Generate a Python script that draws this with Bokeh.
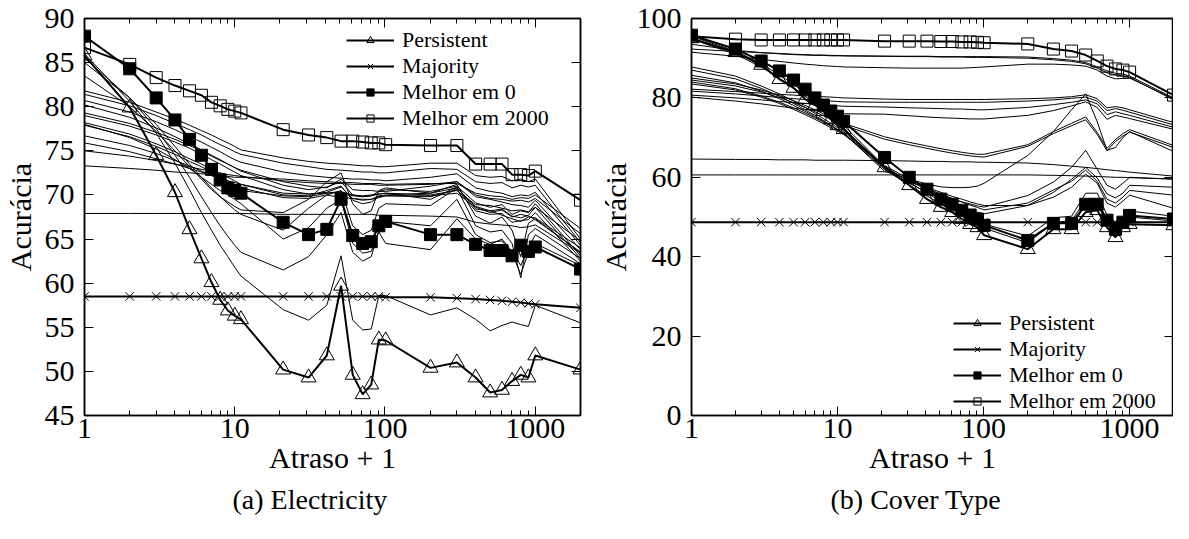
from bokeh.plotting import figure
from bokeh.layouts import row
from bokeh.models import (Range1d, FixedTicker, LinearAxis, Legend, LegendItem, Title,
                          NumeralTickFormatter, CustomJSTickFormatter)
from bokeh.embed import file_html
from bokeh.resources import INLINE

FONT = "Liberation Serif"

# delay + 1
X = [1, 2, 3, 4, 5, 6, 7, 8, 9, 10, 11, 21, 31, 41, 51, 61, 71, 81, 91, 101,
     201, 301, 401, 501, 601, 701, 801, 901, 1001, 2001]

X_MAJOR = [1, 10, 100, 1000]
X_MINOR = [2, 3, 4, 5, 6, 7, 8, 9, 20, 30, 40, 50, 60, 70, 80, 90,
           200, 300, 400, 500, 600, 700, 800, 900, 2000]

# ---------------- (a) Electricity ----------------
elec_yticks = [45, 50, 55, 60, 65, 70, 75, 80, 85, 90]
elec_persistent = [85.8, 79.9, 74.5, 70.3, 66.1, 62.8, 60.1, 58.1, 56.9, 56.3, 55.9,
                   50.2, 49.3, 51.8, 59.7, 49.6, 47.4, 48.5, 53.6, 53.5,
                   50.4, 51.0, 49.3, 47.6, 47.9, 48.9, 49.6, 49.3, 51.8, 50.2]
elec_majority = [58.5, 58.5, 58.5, 58.5, 58.5, 58.5, 58.5, 58.5, 58.5, 58.5, 58.5,
                 58.5, 58.5, 58.5, 58.5, 58.5, 58.5, 58.5, 58.5, 58.4,
                 58.4, 58.3, 58.2, 58.1, 58.0, 57.9, 57.8, 57.7, 57.6, 57.2]
elec_best0 = [88.0, 84.3, 81.0, 78.5, 76.3, 74.5, 72.9, 71.7, 70.8, 70.5, 70.2,
              66.9, 65.5, 66.1, 69.5, 65.4, 64.5, 64.7, 66.5, 67.0,
              65.5, 65.5, 64.4, 63.7, 63.7, 63.1, 64.3, 63.6, 64.1, 61.6]
elec_best2000 = [86.7, 84.8, 83.3, 82.4, 81.8, 81.3, 80.5, 80.1, 79.7, 79.5, 79.3,
                 77.4, 76.8, 76.5, 76.1, 76.1, 76.0, 75.9, 75.9, 75.7,
                 75.6, 75.6, 73.5, 73.5, 73.5, 72.3, 72.3, 72.2, 72.7, 69.4]
elec_l01 = [81.8, 80.5, 79.4, 78.6, 77.9, 77.3, 76.8, 76.3, 75.9, 75.5, 75.1, 74.2, 73.8, 73.6, 73.5, 73.4, 73.3, 73.3, 73.2, 73.2, 73.6, 73.6, 72.2, 72.0, 72.1, 71.6, 71.8, 71.5, 71.8, 65.0]
elec_l02 = [81.4, 80.1, 79.0, 78.1, 77.4, 76.8, 76.2, 75.7, 75.3, 74.9, 74.6, 73.6, 73.2, 72.9, 72.8, 72.7, 72.6, 72.6, 72.5, 72.5, 73.0, 72.9, 71.5, 71.3, 71.4, 70.8, 71.1, 70.9, 71.1, 64.6]
elec_l03 = [80.7, 79.4, 78.3, 77.4, 76.6, 76.0, 75.4, 74.9, 74.4, 74.0, 73.7, 72.6, 72.2, 72.0, 71.9, 71.8, 71.8, 71.7, 71.7, 71.6, 72.0, 72.4, 70.8, 70.4, 70.2, 69.8, 70.0, 69.9, 70.3, 64.3]
elec_l04 = [80.2, 78.8, 77.6, 76.6, 75.8, 75.1, 74.5, 74.0, 73.5, 73.1, 72.8, 71.5, 71.0, 70.8, 71.8, 70.6, 70.5, 70.5, 70.4, 70.4, 71.0, 71.5, 69.8, 69.5, 69.2, 68.9, 68.8, 68.6, 69.4, 63.8]
elec_l05 = [79.3, 78.1, 77.1, 76.3, 75.6, 75.0, 74.4, 73.9, 73.5, 73.1, 72.7, 71.1, 70.6, 70.9, 71.5, 70.0, 69.8, 69.9, 70.4, 70.6, 70.4, 71.0, 69.1, 68.6, 68.9, 67.8, 68.2, 68.0, 69.0, 63.1]
elec_l06 = [79.0, 77.8, 76.8, 76.0, 75.3, 74.6, 74.0, 73.5, 73.0, 72.6, 72.2, 70.6, 70.1, 70.3, 70.9, 69.6, 69.5, 69.5, 69.9, 70.0, 70.2, 70.8, 68.7, 68.2, 68.4, 67.6, 67.4, 67.7, 68.6, 62.8]
elec_l07 = [78.2, 76.9, 75.8, 74.9, 74.1, 73.5, 72.9, 72.4, 72.0, 71.6, 71.2, 70.0, 69.9, 70.5, 71.0, 69.4, 69.0, 69.2, 69.8, 69.9, 69.8, 70.6, 68.2, 67.8, 67.9, 66.9, 67.1, 67.2, 68.0, 62.5]
elec_l08 = [77.9, 76.6, 75.5, 74.6, 73.8, 73.2, 72.6, 72.1, 71.6, 71.2, 70.8, 69.7, 69.6, 70.0, 69.7, 69.6, 69.4, 69.5, 69.7, 69.9, 69.9, 70.2, 68.6, 68.0, 68.3, 67.5, 67.8, 67.6, 67.2, 63.5]
elec_l09 = [76.7, 75.6, 74.7, 73.9, 73.3, 72.7, 72.2, 71.8, 71.4, 71.0, 70.5, 69.9, 69.8, 70.2, 70.4, 69.9, 69.8, 69.9, 70.1, 70.2, 69.5, 70.9, 68.4, 68.2, 67.7, 67.3, 67.0, 67.5, 67.4, 64.0]
elec_l10 = [75.9, 74.9, 74.1, 73.5, 73.0, 72.6, 72.2, 71.9, 71.6, 71.4, 71.2, 70.2, 70.1, 70.2, 70.3, 70.0, 69.9, 70.0, 70.1, 70.2, 70.0, 70.5, 68.9, 68.8, 68.5, 68.2, 68.3, 68.1, 68.6, 64.8]
elec_l11 = [75.0, 74.4, 73.9, 73.5, 73.2, 72.9, 72.7, 72.5, 72.3, 72.2, 72.1, 71.6, 71.4, 71.3, 71.3, 71.2, 71.2, 71.2, 71.1, 71.1, 71.2, 71.5, 70.0, 69.6, 69.5, 69.3, 69.4, 69.2, 69.6, 65.6]
elec_l12 = [73.3, 73.0, 72.8, 72.6, 72.5, 72.4, 72.3, 72.2, 72.1, 72.0, 72.0, 71.8, 71.6, 71.5, 71.4, 71.4, 71.3, 71.3, 71.3, 71.2, 71.3, 71.3, 70.2, 69.9, 69.8, 69.5, 69.7, 69.6, 70.0, 66.2]
elec_l13 = [67.9, 67.9, 67.9, 67.9, 67.9, 67.9, 67.9, 67.9, 67.9, 67.9, 67.9, 67.8, 67.8, 67.8, 67.8, 67.8, 67.8, 67.8, 67.7, 67.7, 67.6, 67.5, 66.9, 66.7, 66.6, 66.5, 66.3, 66.4, 66.6, 63.4]
elec_l14 = [85.0, 81.0, 78.0, 75.5, 73.5, 72.0, 70.8, 69.8, 69.0, 68.3, 67.8, 66.0, 68.5, 70.0, 70.5, 66.5, 65.5, 66.0, 68.5, 69.0, 68.8, 70.8, 66.5, 65.8, 66.0, 64.5, 60.6, 65.5, 66.2, 62.8]
elec_l15 = [83.5, 80.0, 77.2, 75.0, 73.2, 71.8, 70.6, 69.8, 69.2, 68.7, 68.3, 68.0, 69.5, 71.5, 72.5, 69.0, 67.8, 68.2, 70.5, 70.8, 70.2, 71.2, 67.6, 66.8, 67.5, 66.0, 63.0, 66.8, 67.3, 63.5]
elec_l16 = [78.0, 76.5, 75.2, 74.0, 73.0, 72.0, 71.2, 70.5, 70.0, 69.5, 69.0, 65.0, 66.3, 68.5, 69.5, 64.5, 63.4, 63.6, 65.8, 64.5, 63.8, 67.3, 65.0, 64.4, 65.0, 63.6, 62.0, 64.0, 65.5, 62.2]
elec_l17 = [85.5, 81.0, 77.5, 74.5, 72.0, 69.8, 68.0, 66.5, 65.3, 64.3, 63.5, 61.5, 63.0, 65.5, 68.0, 63.5, 62.5, 63.0, 66.0, 67.0, 66.5, 69.5, 65.5, 64.6, 64.8, 63.4, 61.0, 63.5, 64.5, 62.0]
elec_l18 = [86.0, 80.6, 77.0, 73.6, 70.6, 68.0, 66.0, 64.3, 63.0, 61.8, 60.8, 57.0, 55.8, 57.5, 63.1, 55.8, 54.7, 54.8, 58.6, 58.6, 56.4, 57.2, 55.9, 54.6, 55.2, 55.6, 55.3, 55.1, 57.5, 55.5]
elec_others = [elec_l01, elec_l02, elec_l03, elec_l04, elec_l05, elec_l06, elec_l07, elec_l08, elec_l09,
               elec_l10, elec_l11, elec_l12, elec_l13, elec_l14, elec_l15, elec_l16, elec_l17, elec_l18]

# ---------------- (b) Cover Type ----------------
cov_yticks = [0, 20, 40, 60, 80, 100]
cov_persistent = [95.0, 91.5, 88.3, 84.7, 82.5, 79.7, 78.2, 76.7, 74.6, 73.1, 72.1,
                  62.5, 58.0, 54.5, 52.5, 51.2, 49.5, 48.2, 47.4, 45.4,
                  41.9, 46.9, 46.9, 51.2, 51.7, 47.4, 44.9, 47.4, 48.2, 47.9]
cov_majority = [48.7, 48.7, 48.7, 48.7, 48.7, 48.7, 48.7, 48.7, 48.7, 48.7, 48.7,
                48.7, 48.7, 48.7, 48.7, 48.7, 48.7, 48.7, 48.7, 48.7,
                48.7, 48.7, 48.7, 48.7, 48.7, 48.7, 48.7, 48.7, 48.7, 48.7]
cov_best0 = [95.8, 92.3, 89.3, 86.8, 84.5, 82.2, 80.0, 78.2, 76.7, 75.4, 74.1,
             65.0, 60.0, 57.0, 54.5, 53.2, 51.7, 50.5, 49.5, 47.9,
             44.1, 48.4, 48.4, 53.2, 53.2, 49.2, 46.9, 48.7, 50.4, 49.5]
cov_best2000 = [95.5, 94.8, 94.6, 94.6, 94.6, 94.6, 94.6, 94.6, 94.6, 94.6, 94.6,
                94.3, 94.3, 94.3, 94.2, 94.2, 94.1, 94.1, 94.0, 93.9,
                93.6, 92.3, 91.8, 90.8, 89.3, 88.0, 87.3, 87.0, 86.5, 80.7]
cov_l01 = [93.5, 92.0, 91.4, 91.1, 90.9, 90.8, 90.7, 90.7, 90.6, 90.6, 90.6, 90.5, 90.5, 90.5, 90.4, 90.4, 90.4, 90.4, 90.4, 90.4, 90.3, 89.9, 89.5, 88.9, 87.8, 86.8, 86.2, 86.0, 85.5, 80.0]
cov_l02 = [91.5, 90.5, 89.7, 89.2, 88.8, 88.5, 88.3, 88.1, 88.0, 87.9, 87.8, 87.6, 87.5, 87.5, 87.5, 87.5, 87.5, 87.6, 87.7, 87.8, 88.5, 88.5, 88.3, 88.0, 87.0, 85.5, 84.8, 84.9, 85.0, 79.8]
cov_l03 = [92.3, 91.7, 91.4, 91.2, 91.0, 90.9, 90.8, 90.8, 90.7, 90.7, 90.6, 90.5, 90.4, 90.4, 90.3, 90.3, 90.3, 90.2, 90.2, 90.2, 90.0, 89.6, 89.2, 88.6, 87.5, 86.3, 85.8, 85.5, 85.2, 79.5]
cov_l04 = [82.2, 81.6, 81.2, 80.9, 80.7, 80.5, 80.4, 80.3, 80.2, 80.1, 80.0, 79.7, 79.6, 79.6, 79.6, 79.6, 79.6, 79.6, 79.6, 79.6, 79.8, 80.0, 80.3, 80.8, 79.8, 77.5, 77.8, 77.5, 77.0, 73.8]
cov_l05 = [81.7, 81.0, 80.5, 80.1, 79.8, 79.6, 79.4, 79.3, 79.2, 79.1, 79.0, 78.9, 78.9, 78.9, 78.9, 78.9, 78.9, 78.9, 78.9, 78.9, 79.2, 79.5, 79.9, 80.2, 79.2, 76.8, 77.3, 76.9, 76.4, 73.2]
cov_l06 = [80.7, 80.0, 79.5, 79.1, 78.8, 78.6, 78.4, 78.3, 78.1, 78.0, 77.9, 77.7, 77.5, 77.4, 77.3, 77.2, 77.2, 77.1, 77.0, 77.0, 77.6, 78.3, 78.9, 79.5, 78.5, 75.8, 76.5, 76.0, 75.6, 72.6]
cov_l07 = [80.2, 79.2, 78.5, 77.9, 77.4, 77.1, 76.8, 76.6, 76.4, 76.2, 76.0, 75.9, 75.5, 75.2, 75.0, 74.9, 74.8, 74.7, 74.7, 74.7, 75.6, 76.8, 78.0, 79.0, 77.6, 74.6, 75.6, 75.2, 74.8, 72.1]
cov_l08 = [85.0, 83.5, 82.0, 80.6, 79.3, 78.1, 77.0, 76.0, 75.1, 74.3, 73.6, 70.2, 68.8, 67.9, 67.2, 66.7, 66.3, 66.0, 65.8, 65.8, 68.2, 71.5, 73.6, 75.2, 71.3, 67.3, 69.5, 71.0, 72.0, 68.0]
cov_l09 = [84.5, 83.0, 81.5, 80.1, 78.8, 77.6, 76.5, 75.5, 74.6, 73.8, 73.1, 69.6, 68.2, 67.3, 66.6, 66.1, 65.7, 65.4, 65.2, 65.1, 67.8, 71.0, 73.0, 74.5, 70.8, 66.7, 69.0, 70.4, 71.4, 67.5]
cov_l10 = [64.6, 64.5, 64.5, 64.4, 64.4, 64.4, 64.3, 64.3, 64.3, 64.3, 64.3, 64.2, 64.1, 64.0, 64.0, 63.9, 63.9, 63.9, 63.8, 63.8, 63.6, 63.2, 62.8, 62.5, 62.2, 61.9, 61.7, 61.5, 61.3, 60.3]
cov_l11 = [60.6, 60.6, 60.6, 60.6, 60.6, 60.6, 60.6, 60.6, 60.6, 60.6, 60.6, 60.6, 60.6, 60.6, 60.6, 60.6, 60.6, 60.6, 60.6, 60.6, 60.6, 60.5, 60.4, 60.3, 60.2, 60.1, 60.0, 60.0, 59.9, 59.6]
cov_l12 = [84.0, 82.3, 80.5, 78.9, 77.5, 76.2, 75.0, 73.9, 72.9, 72.0, 71.2, 61.5, 59.5, 58.3, 57.6, 57.4, 57.4, 57.5, 57.8, 58.5, 65.5, 71.5, 77.0, 81.0, 74.0, 66.8, 67.5, 70.0, 71.5, 66.5]
cov_l13 = [87.8, 85.5, 83.0, 81.0, 79.2, 77.6, 76.1, 74.8, 73.6, 72.5, 71.5, 62.5, 59.0, 57.0, 55.5, 54.5, 53.8, 53.3, 52.8, 52.5, 55.4, 58.8, 62.5, 66.8, 62.0, 58.0, 57.0, 58.5, 60.0, 59.5]
cov_l14 = [87.0, 84.8, 82.4, 80.4, 78.6, 77.0, 75.6, 74.3, 73.1, 72.0, 71.0, 62.0, 58.5, 56.2, 54.6, 53.4, 52.5, 51.8, 51.2, 50.8, 52.9, 56.2, 59.5, 62.5, 59.8, 55.8, 54.8, 56.0, 58.0, 57.5]
cov_l15 = [85.7, 83.8, 81.7, 79.8, 78.1, 76.6, 75.3, 74.1, 73.0, 72.0, 71.1, 62.5, 59.0, 57.2, 55.8, 54.7, 53.8, 53.0, 52.4, 51.8, 53.5, 56.8, 59.0, 61.8, 59.0, 54.5, 53.5, 55.0, 56.7, 55.5]
cov_l16 = [83.5, 82.0, 80.2, 78.6, 77.1, 75.8, 74.6, 73.5, 72.5, 71.6, 70.8, 63.0, 59.5, 57.5, 56.2, 55.2, 54.5, 53.8, 53.3, 52.9, 52.9, 55.0, 57.5, 60.8, 58.5, 53.5, 52.5, 54.0, 55.5, 52.2]
cov_l17 = [95.5, 91.8, 88.6, 85.8, 83.4, 81.2, 79.2, 77.4, 75.8, 74.4, 73.1, 62.8, 58.8, 56.0, 54.0, 52.4, 51.0, 49.9, 49.0, 48.2, 45.2, 49.8, 50.2, 56.0, 56.0, 50.5, 48.0, 49.5, 51.5, 50.2]
cov_l18 = [94.8, 91.0, 87.8, 85.0, 82.6, 80.4, 78.5, 76.8, 75.2, 73.8, 72.5, 62.0, 58.0, 55.3, 53.2, 51.6, 50.2, 49.0, 48.0, 47.2, 43.5, 48.5, 49.0, 54.5, 54.5, 49.0, 46.3, 48.0, 50.0, 49.0]
cov_others = [cov_l01, cov_l02, cov_l03, cov_l04, cov_l05, cov_l06, cov_l07, cov_l08, cov_l09,
              cov_l10, cov_l11, cov_l12, cov_l13, cov_l14, cov_l15, cov_l16, cov_l17, cov_l18]

SERIES_NAMES = ["Persistent", "Majority", "Melhor em 0", "Melhor em 2000"]

BLANK = CustomJSTickFormatter(code="return ''")


def style_axis(ax, show_labels=True):
    ax.axis_line_color = "black"
    ax.axis_line_width = 1.5
    ax.major_tick_line_color = "black"
    ax.major_tick_line_width = 1
    ax.minor_tick_line_color = "black"
    ax.minor_tick_line_width = 1
    ax.major_tick_in = 9
    ax.major_tick_out = 0
    ax.minor_tick_in = 5
    ax.minor_tick_out = 0
    ax.major_label_text_font = FONT
    ax.major_label_text_color = "black"
    ax.major_label_text_font_size = "30px"
    ax.axis_label_text_font = FONT
    ax.axis_label_text_font_size = "30px"
    ax.axis_label_text_font_style = "normal"
    ax.axis_label_text_color = "black"
    if not show_labels:
        ax.formatter = BLANK
        ax.major_label_standoff = 0


def make_panel(width, yr, yticks, others, pers, maj, b0, b2000, caption,
               bl, br, legend_loc, cap_offset, ylab_standoff):
    p = figure(width=width, height=523, x_axis_type="log",
               x_range=Range1d(1, 2001), y_range=Range1d(*yr),
               output_backend="svg", toolbar_location=None,
               min_border_left=bl, min_border_right=br,
               min_border_top=18, min_border_bottom=108,
               x_axis_label="Atraso + 1", y_axis_label="Acurácia")
    p.xgrid.visible = False
    p.ygrid.visible = False
    p.outline_line_color = "black"
    p.outline_line_width = 1.5
    p.background_fill_color = "white"
    p.border_fill_color = "white"

    p.xaxis.ticker = FixedTicker(ticks=X_MAJOR, minor_ticks=X_MINOR)
    p.xaxis.formatter = NumeralTickFormatter(format="0")
    p.yaxis.ticker = FixedTicker(ticks=yticks)
    style_axis(p.xaxis[0])
    style_axis(p.yaxis[0])
    p.xaxis.major_label_standoff = 3
    p.xaxis.axis_label_standoff = 0
    p.yaxis.major_label_standoff = 10
    p.yaxis.axis_label_standoff = ylab_standoff

    top = LinearAxis(ticker=FixedTicker(ticks=X_MAJOR, minor_ticks=X_MINOR))
    style_axis(top, show_labels=False)
    p.add_layout(top, "above")
    right = LinearAxis(ticker=FixedTicker(ticks=yticks))
    style_axis(right, show_labels=False)
    p.add_layout(right, "right")

    for ys in others:
        p.line(X, ys, line_color="black", line_width=1)

    lp = p.line(X, pers, line_color="black", line_width=2)
    mp = p.scatter(X, pers, marker="triangle", size=15, fill_alpha=0,
                   line_color="black", line_width=1)
    lm = p.line(X, maj, line_color="black", line_width=2)
    mm = p.scatter(X, maj, marker="x", size=12, line_color="black", line_width=1)
    lb0 = p.line(X, b0, line_color="black", line_width=2)
    mb0 = p.scatter(X, b0, marker="square", size=12, fill_color="black",
                    line_color="black")
    lb2 = p.line(X, b2000, line_color="black", line_width=2)
    mb2 = p.scatter(X, b2000, marker="square", size=12, fill_alpha=0,
                    line_color="black", line_width=1)

    legend = Legend(items=[
        LegendItem(label=SERIES_NAMES[0], renderers=[lp, mp]),
        LegendItem(label=SERIES_NAMES[1], renderers=[lm, mm]),
        LegendItem(label=SERIES_NAMES[2], renderers=[lb0, mb0]),
        LegendItem(label=SERIES_NAMES[3], renderers=[lb2, mb2]),
    ], location=legend_loc)
    legend.label_text_font = FONT
    legend.label_text_font_size = "22px"
    legend.label_text_color = "black"
    legend.glyph_width = 48
    legend.glyph_height = 18
    legend.label_height = 18
    legend.label_standoff = 8
    legend.spacing = 0
    legend.padding = 0
    legend.margin = 0
    legend.border_line_alpha = 0
    legend.background_fill_alpha = 0
    p.add_layout(legend)

    p.add_layout(Title(text=caption, align="left", offset=cap_offset,
                       text_font=FONT, text_font_size="28px",
                       text_font_style="normal", text_color="black"), "below")
    return p


p1 = make_panel(592, (45, 90), elec_yticks, elec_others, elec_persistent,
                elec_majority, elec_best0, elec_best2000, "(a) Electricity",
                77, 12, (262, 284), 148, 5)
p2 = make_panel(581, (0, 100), cov_yticks, cov_others, cov_persistent,
                cov_majority, cov_best0, cov_best2000, "(b) Cover Type",
                99, 0, (262, 1), 139, 2)

layout = row(p1, p2)
open("out.html", "w").write(file_html(layout, INLINE))
